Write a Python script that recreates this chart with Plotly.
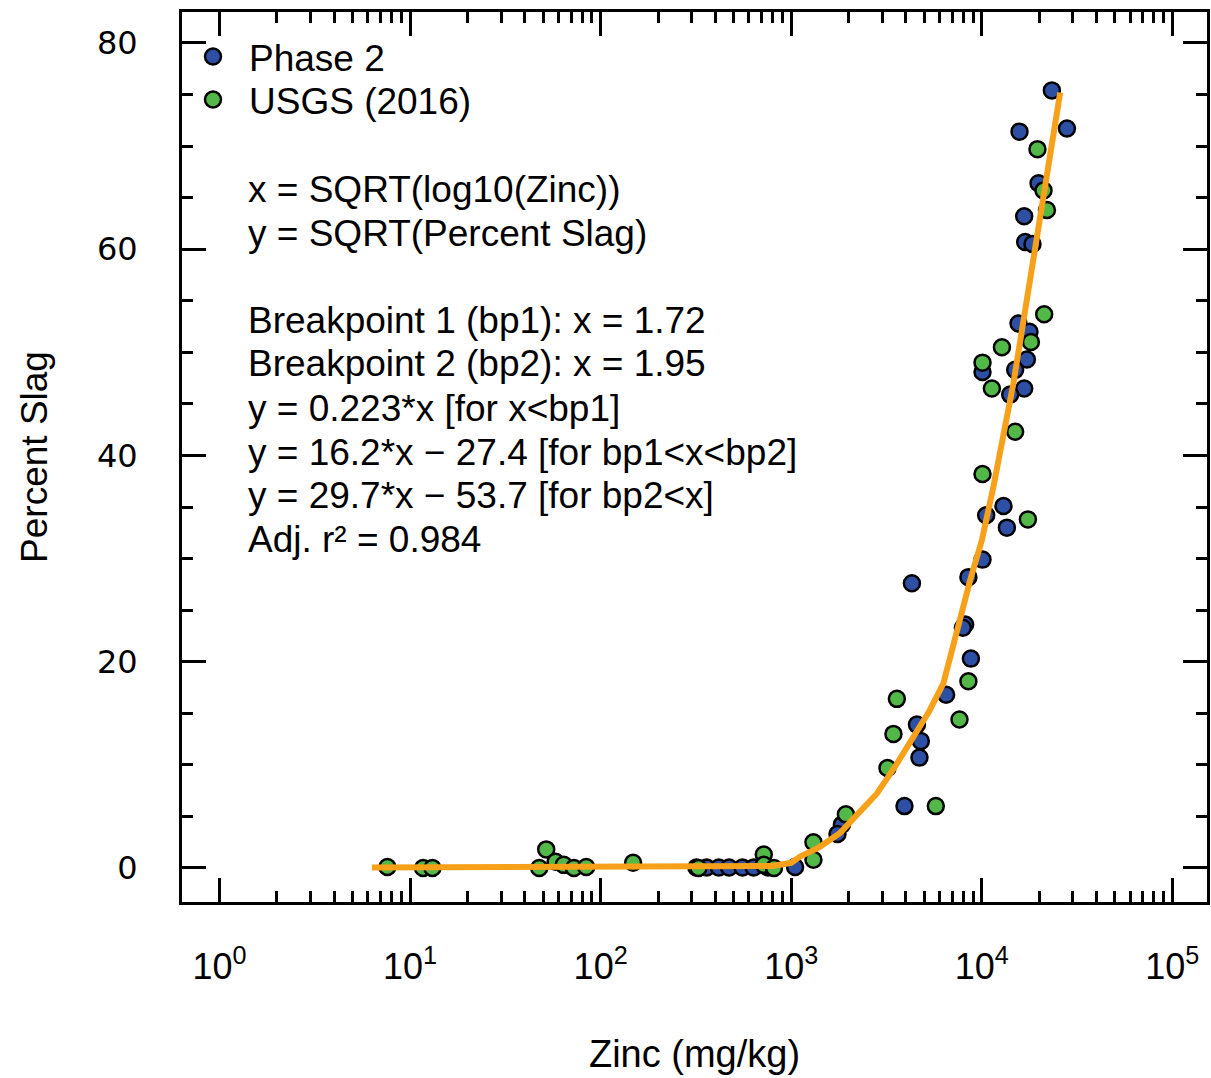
import plotly.graph_objects as go

# ---------------- data ----------------
phase2_zinc = [23330, 15780, 27990, 19860, 16700, 16900, 18460, 15590, 17800, 17250,
               14970, 10090, 16700, 14100, 13000, 10550, 13550, 10090, 8510, 4300,
               8180, 7960, 8770, 6500, 4570, 4790, 4710, 3930, 1845, 1749,
               1048, 318, 360, 417, 472, 555, 635, 755]
phase2_slag = [75.4, 71.4, 71.7, 66.4, 63.2, 60.7, 60.5, 52.8, 52.0, 49.3,
               48.3, 48.1, 46.5, 45.9, 35.1, 34.2, 33.0, 29.9, 28.2, 27.6,
               23.6, 23.3, 20.3, 16.8, 13.9, 12.3, 10.7, 6.0, 4.2, 3.3,
               0.1, 0.05, 0.05, 0.05, 0.05, 0.05, 0.05, 0.05]

usgs_zinc = [19600, 21090, 21980, 21260, 18110, 12760, 10090, 11300, 14970, 10090,
             17460, 8510, 3585, 7640, 3440, 3200, 5740, 1936, 1308, 1308,
             7.6, 11.7, 13.1, 51.8, 47.6, 58, 64, 72.4, 84, 148,
             326, 718, 718, 812]
usgs_slag = [69.7, 65.7, 63.8, 53.7, 51.0, 50.5, 49.0, 46.5, 42.3, 38.2,
             33.8, 18.1, 16.4, 14.4, 13.0, 9.7, 6.0, 5.2, 2.5, 0.8,
             0.1, 0.0, 0.0, 1.8, 0.0, 0.6, 0.3, 0.0, 0.1, 0.5,
             0.0, 1.3, 0.3, 0.0]

fit_zinc = [6.3, 100, 500, 800, 1000, 1114, 1400, 1806, 2200, 2813, 3500, 4377,
            5300, 6290, 7396, 8690, 10020, 11520, 14660, 17250, 25800]
fit_slag = [0.05, 0.1, 0.13, 0.2, 0.5, 1.1, 2.0, 3.4, 5.1, 7.2, 9.8, 12.7,
            15.2, 17.9, 23.1, 27.9, 31.8, 37.0, 47.0, 55.1, 75.2]

x_tickvals = [1, 10, 100, 1000, 10000, 100000]
x_ticktext = ["10<sup>0</sup>", "10<sup>1</sup>", "10<sup>2</sup>",
              "10<sup>3</sup>", "10<sup>4</sup>", "10<sup>5</sup>"]
x_minor_vals = [d * 10 ** e for e in range(0, 5) for d in range(2, 10)]
y_tickvals = [0, 20, 40, 60, 80]

text_lines = [
    "x = SQRT(log10(Zinc))",
    "y = SQRT(Percent Slag)",
    "Breakpoint 1 (bp1): x = 1.72",
    "Breakpoint 2 (bp2): x = 1.95",
    "y = 0.223*x [for x<bp1]",
    "y = 16.2*x \u2212 27.4 [for bp1<x<bp2]",
    "y = 29.7*x \u2212 53.7 [for bp2<x]",
    "Adj. r\u00b2 = 0.984",
]
text_line_px = [189, 233, 320, 364, 408, 452, 496, 539]

# ---------------- styles ----------------
BLUE = "#2D4FA4"
GREEN = "#52B848"
ORANGE = "#F7A11A"
FONT = "Liberation Sans, Arial, sans-serif"
WIDE = "DejaVu Sans, Verdana, sans-serif"

W, H = 1211, 1078
L, R, T, B = 182, 4, 12, 176
plot_w = W - L - R
plot_h = H - T - B


def px_x(p):
    return (p - L) / plot_w


def px_y(p):
    return 1 - (p - T) / plot_h


fig = go.Figure()
fig.add_trace(go.Scatter(
    x=phase2_zinc, y=phase2_slag, mode="markers", name="Phase 2", legend="legend",
    marker=dict(size=16, color=BLUE, line=dict(color="black", width=2.5)),
))
fig.add_trace(go.Scatter(
    x=usgs_zinc, y=usgs_slag, mode="markers", name="USGS (2016)", legend="legend2",
    marker=dict(size=16, color=GREEN, line=dict(color="black", width=2.5)),
))
fig.add_trace(go.Scatter(
    x=fit_zinc, y=fit_slag, mode="lines", name="Fit", showlegend=False,
    line=dict(color=ORANGE, width=6),
))

for txt, ypx in zip(text_lines, text_line_px):
    fig.add_annotation(
        text=txt, xref="paper", yref="paper",
        x=px_x(246), y=px_y(ypx),
        xanchor="left", yanchor="middle", showarrow=False,
        font=dict(family=FONT, size=37, color="black"), align="left",
    )

axis_common = dict(
    showline=True, linewidth=3, linecolor="black", mirror="allticks",
    ticks="inside", tickwidth=3, tickcolor="black", ticklen=24,
    showgrid=False, zeroline=False,
)

fig.update_xaxes(
    type="log", range=[-0.197, 5.182],
    tickmode="array", tickvals=x_tickvals, ticktext=x_ticktext,
    tickfont=dict(family=FONT, size=36, color="black"),
    ticklabelstandoff=31,
    minor=dict(ticks="inside", ticklen=11, tickwidth=3, tickcolor="black",
               tickmode="array", tickvals=x_minor_vals, showgrid=False),
    title=dict(text="Zinc (mg/kg)", font=dict(family=FONT, size=38, color="black"),
               standoff=55),
    **axis_common,
)
fig.update_yaxes(
    range=[-3.3, 83.0],
    tickmode="array", tickvals=y_tickvals,
    tickfont=dict(family=WIDE, size=32, color="black"),
    ticklabelstandoff=35,
    minor=dict(ticks="inside", ticklen=11, tickwidth=3, tickcolor="black",
               dtick=5, tick0=0, showgrid=False),
    title=dict(text="Percent Slag", font=dict(family=FONT, size=37, color="black"),
               standoff=38),
    **axis_common,
)

legend_common = dict(
    xanchor="left", yanchor="middle",
    bgcolor="rgba(0,0,0,0)", borderwidth=0,
    font=dict(family=FONT, size=37, color="black"),
    itemwidth=62,
)

fig.update_layout(
    width=W, height=H,
    margin=dict(l=L, r=R, t=T, b=B, autoexpand=False),
    paper_bgcolor="white", plot_bgcolor="white",
    font=dict(family=FONT, color="black"),
    showlegend=True,
    legend=dict(x=px_x(177), y=px_y(57), **legend_common),
    legend2=dict(x=px_x(177), y=px_y(100), **legend_common),
)

fig.write_html(
    "out.html",
    config={"displayModeBar": False},
    post_script="document.body.style.margin='0';document.body.style.overflow='hidden';",
)
